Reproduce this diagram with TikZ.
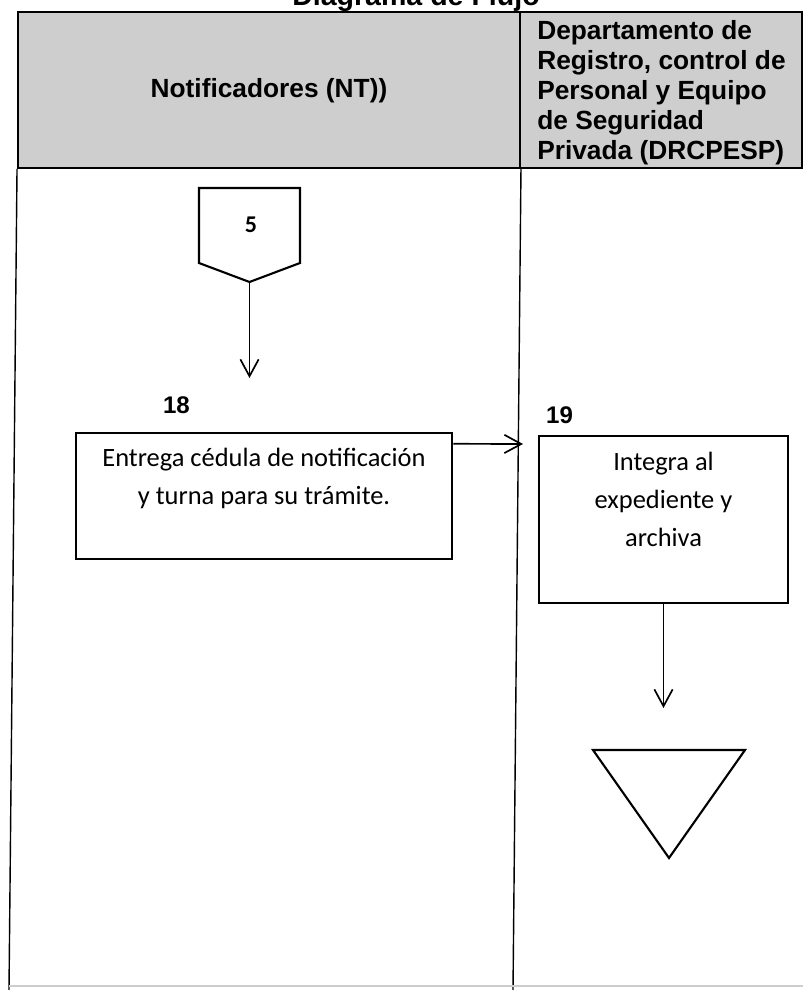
\documentclass[tikz,border=0pt]{standalone}
\usepackage{fontspec}
\setmainfont{Carlito}
\newfontfamily\arialfont{Liberation Sans}
\usetikzlibrary{arrows.meta,positioning}

\definecolor{hdrgray}{RGB}{206,206,206}
\definecolor{edgegray}{RGB}{205,205,205}

\begin{document}
\begin{tikzpicture}[
    x=0.025cm, y=-0.025cm,
    hdr/.style={draw, line width=1.3pt, fill=hdrgray, minimum height=3.9cm, inner sep=0pt},
    hdrtxt/.style={inner sep=0pt, font=\arialfont\bfseries\fontsize{18.7}{21.3}\selectfont},
    box/.style={draw, line width=1.7pt, minimum width=9.4cm, minimum height=3.15cm},
    txt/.style={align=center, inner sep=0pt, font=\fontsize{18.8}{27}\selectfont},
    stepno/.style={inner sep=0pt, font=\arialfont\bfseries\fontsize{17.1}{20}\selectfont},
    lane/.style={line width=1pt},
    arr/.style={-{Straight Barb[length=12pt, width=13pt]}, line width=1.2pt}
  ]
  \useasboundingbox (0,0) rectangle (803,990);
  \clip (0,0) rectangle (803,990);

  % titulo, cortado por arriba
  \node[inner sep=0pt, anchor=base, font=\arialfont\bfseries\fontsize{20.3}{24}\selectfont] (title) at (416,6) {Diagrama de Flujo};

  % encabezados de carril
  \node[hdr, minimum width=12.55cm] (hNT) at (269,90) {};
  \node[hdr, minimum width=7.05cm] (hDR) at (661,90) {};
  \node[hdrtxt] (tNT) at (269,91) {Notificadores (NT))};
  \node[hdrtxt, anchor=west, align=left] (tDR) at (537,93)
    {Departamento de\\Registro, control de\\Personal y Equipo\\de Seguridad\\Privada (DRCPESP)};

  % carriles
  \draw[lane] (hNT.south west) -- (9,990);
  \draw[lane] (hNT.south east) -- (513,990);
  \draw[edgegray, line width=1pt] (9,986) -- (803,986);

  % conector de pagina 5
  \draw[line width=1.5pt] (199,188) -- (300,188) -- (300,263) -- (249.5,282) -- (199,263) -- cycle;
  \node[inner sep=0pt, font=\bfseries\fontsize{17.1}{20}\selectfont] (off5) at (251,225) {5};
  \coordinate (off5tip) at (249.5,282);
  \coordinate (in18) at (249.5,378);
  \draw[arr] (off5tip) -- (in18);

  % paso 18
  \node[stepno] (n18) at (176.5,405.5) {18};
  \node[box] (box18) at (264,496) {};
  \node[txt, anchor=north] (t18) at ([yshift=-0.4cm]box18.north)
    {Entrega cédula de notificación\\y turna para su trámite.};

  % paso 19
  \node[stepno] (n19) at (559.5,415.5) {19};
  \node[box, minimum width=6.225cm, minimum height=4.175cm] (box19) at (663.5,519.5) {};
  \node[txt, anchor=north] (t19) at ([yshift=-0.42cm]box19.north)
    {Integra al\\expediente y\\archiva};

  \coordinate (in19) at (523,444);
  \draw[arr] ([yshift=-0.3cm]box18.north east) -- (in19);
  \coordinate (fin) at (663.5,708);
  \draw[arr] (box19.south) -- (fin);

  % fin del procedimiento
  \draw[line width=1.5pt] (593,750) -- (745,750) -- (669,858) -- cycle;
\end{tikzpicture}
\end{document}
